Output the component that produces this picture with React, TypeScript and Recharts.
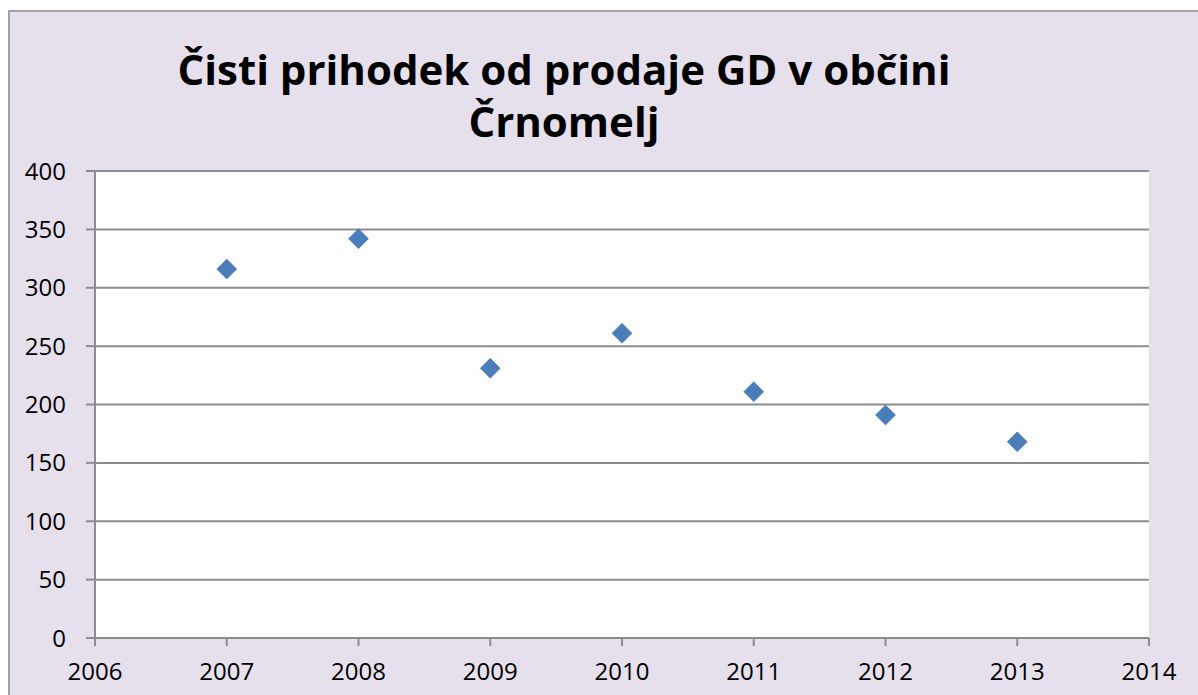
import { ScatterChart, Scatter, XAxis, YAxis, CartesianGrid } from 'recharts'

const years = [2007, 2008, 2009, 2010, 2011, 2012, 2013]
const revenue = [316, 342, 231, 261, 211, 191, 168]
const xTicks = [2006, 2007, 2008, 2009, 2010, 2011, 2012, 2013, 2014]
const yTicks = [0, 50, 100, 150, 200, 250, 300, 350, 400]

const data = years.map((year, i) => ({ year, value: revenue[i] }))

const Diamond = (props: any) => {
  const { cx, cy } = props
  const r = 10
  return (
    <polygon
      points={`${cx},${cy - r} ${cx + r},${cy} ${cx},${cy + r} ${cx - r},${cy}`}
      fill="#4A7EBB"
      stroke="#3F6FA8"
      strokeWidth={0.5}
    />
  )
}

const axisColor = '#8C8C8C'
const tickFont = { fontFamily: 'Open Sans', fontSize: 24, fill: '#000' }

export default function App() {
  return (
    <div
      style={{
        position: 'fixed',
        left: 8,
        top: 10,
        width: 1190,
        height: 685,
        boxSizing: 'border-box',
        background: '#E5E0EC',
        borderTop: '2px solid #A0A0A0',
        borderLeft: '2px solid #A0A0A0',
      }}
    >
      <div
        style={{
          position: 'absolute',
          left: 0,
          top: 31,
          width: 1108,
          textAlign: 'center',
          fontFamily: 'Open Sans',
          fontWeight: 700,
          fontSize: 42,
          lineHeight: '52px',
          color: '#000',
        }}
      >
        Čisti prihodek od prodaje GD v občini
        <br />
        Črnomelj
      </div>
      <ScatterChart width={1188} height={683} margin={{ top: 159, right: 49, bottom: 17, left: 25 }}>
        <CartesianGrid vertical={false} stroke={axisColor} strokeWidth={2} fill="#fff" fillOpacity={1} />
        <XAxis
          type="number"
          dataKey="year"
          domain={[2006, 2014]}
          ticks={xTicks}
          interval={0}
          stroke={axisColor}
          strokeWidth={2}
          tickSize={8}
          tickMargin={17}
          height={40}
          tick={tickFont}
        />
        <YAxis
          type="number"
          dataKey="value"
          domain={[0, 400]}
          ticks={yTicks}
          interval={0}
          stroke={axisColor}
          strokeWidth={2}
          tickSize={9}
          tickMargin={20}
          width={60}
          tick={tickFont}
        />
        <Scatter data={data} shape={<Diamond />} isAnimationActive={false} />
      </ScatterChart>
    </div>
  )
}
